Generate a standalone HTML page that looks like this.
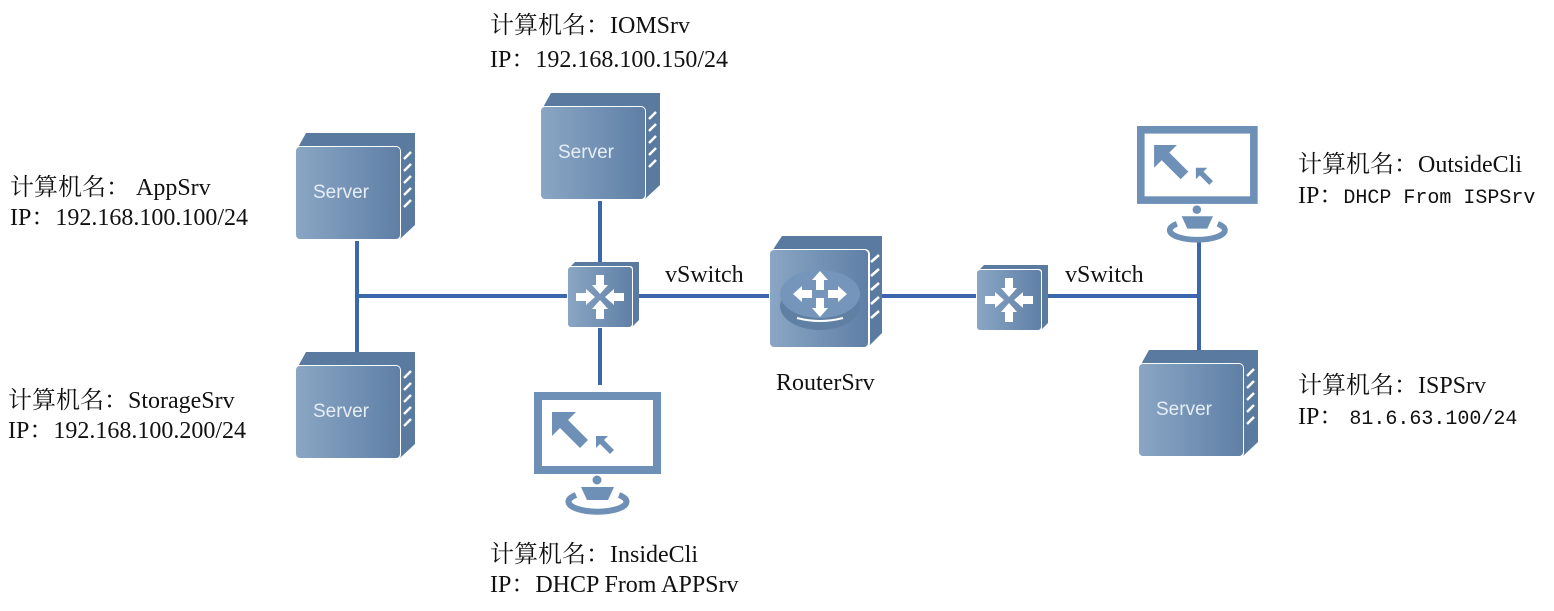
<!DOCTYPE html>
<html><head><meta charset="utf-8"><style>
html,body{margin:0;padding:0;background:#fff;}
svg{display:block}
.t{font-family:"Liberation Serif","Noto Serif CJK SC","Noto Sans CJK SC",serif;font-size:24px;fill:#111}
.m{font-family:"Liberation Mono","Noto Sans CJK SC",monospace;font-size:20px}
.sv{font-family:"Liberation Sans",sans-serif;font-size:19px;fill:#e6edf5}
</style></head><body>
<svg width="1554" height="611" viewBox="0 0 1554 611" xmlns="http://www.w3.org/2000/svg">
<defs>
<linearGradient id="g" x1="0" x2="1" y1="0" y2="0"><stop offset="0" stop-color="#8aa6c4"/><stop offset="1" stop-color="#5f7fa6"/></linearGradient>
<g id="srv">
<polygon points="0,4 10,-14 119,-14 119,78 104,92" fill="#5b7aa0"/>
<rect x="-1" y="-1" width="106" height="95" rx="5" fill="#fff"/>
<rect x="0" y="0" width="104" height="92" rx="4" fill="url(#g)"/>
<g stroke="#fff" stroke-width="2.5"><line x1="108" y1="12" x2="115" y2="5"/><line x1="108" y1="24" x2="115" y2="17"/><line x1="108" y1="36" x2="115" y2="29"/><line x1="108" y1="48" x2="115" y2="41"/><line x1="108" y1="60" x2="115" y2="53"/></g>
</g>
<g id="sw">
<polygon points="0,2 7,-5 71,-5 71,53 64,60" fill="#5b7aa0"/>
<rect x="-1" y="-1" width="66" height="62" rx="3" fill="#fff"/>
<rect x="0" y="0" width="64" height="60" rx="3" fill="url(#g)"/>
<g fill="#fff">
<polygon points="28,8 36,8 36,18 40,18 32,27 24,18 28,18"/>
<polygon points="28,52 36,52 36,42 40,42 32,33 24,42 28,42"/>
<polygon points="8,26 8,34 18,34 18,38 27,30 18,22 18,26"/>
<polygon points="56,26 56,34 46,34 46,38 37,30 46,22 46,26"/>
</g>
</g>
<g id="mon">
<rect x="0" y="0" width="127" height="82" fill="#6e90b6"/>
<rect x="8" y="8" width="111" height="66" fill="#fff"/>
<polygon points="18,20 42,20 34,28 54,48 46,56 26,36 18,44" fill="#6e90b6"/>
<polygon points="62,44 74,44 70,48 80,58 76,62 66,52 62,56" fill="#6e90b6"/>
<circle cx="63" cy="88" r="4.5" fill="#6e90b6"/>
<polygon points="47,95 80,95 74,108 53,108" fill="#6e90b6"/>
<path d="M42,103 A29,10 0 1 0 85,103" fill="none" stroke="#6e90b6" stroke-width="6"/>
</g>
</defs>

<g stroke="#3a67ad" stroke-width="4" fill="none">
<line x1="357" y1="296" x2="770" y2="296"/>
<line x1="357" y1="238" x2="357" y2="366"/>
<line x1="600" y1="199" x2="600" y2="385"/>
<line x1="866" y1="296" x2="1199" y2="296"/>
<line x1="1199" y1="240" x2="1199" y2="364"/>
</g>

<use href="#srv" x="296" y="147"/><text class="sv" x="313" y="198">Server</text>
<use href="#srv" x="296" y="366"/><text class="sv" x="313" y="417">Server</text>
<use href="#srv" x="541" y="107"/><text class="sv" x="558" y="158">Server</text>
<use href="#srv" x="1139" y="364"/><text class="sv" x="1156" y="415">Server</text>

<use href="#sw" x="568" y="267"/>
<use href="#sw" x="977" y="270"/>

<!-- router -->
<polygon points="770,254 782,236 882,236 882,333 868,347" fill="#5b7aa0"/>
<rect x="769" y="249" width="101" height="100" rx="5" fill="#fff"/>
<rect x="770" y="250" width="98" height="97" rx="4" fill="url(#g)"/>
<g stroke="#fff" stroke-width="2.5"><line x1="871" y1="262" x2="879" y2="255"/><line x1="871" y1="276" x2="879" y2="269"/><line x1="871" y1="290" x2="879" y2="283"/><line x1="871" y1="304" x2="879" y2="297"/><line x1="871" y1="318" x2="879" y2="311"/></g>
<ellipse cx="820" cy="306" rx="40" ry="24" fill="#5f7fa3"/>
<ellipse cx="820" cy="294" rx="40" ry="24" fill="#7595ba"/>
<path d="M797,318 Q820,324 843,318" stroke="#fff" stroke-width="2" fill="none"/>
<g fill="#fff">
<polygon points="820,271 828,280 824,280 824,290 816,290 816,280 812,280"/>
<polygon points="820,317 828,308 824,308 824,298 816,298 816,308 812,308"/>
<polygon points="793,294 802,286 802,290 812,290 812,298 802,298 802,302"/>
<polygon points="847,294 838,286 838,290 828,290 828,298 838,298 838,302"/>
</g>

<use href="#mon" x="534" y="392"/>
<g transform="translate(1137,126) scale(0.95)"><use href="#mon"/></g>

<text class="t" x="490" y="33">计算机名：IOMSrv</text>
<text class="t" x="490" y="67">IP：192.168.100.150/24</text>
<text class="t" x="10" y="195">计算机名： AppSrv</text>
<text class="t" x="10" y="225">IP：192.168.100.100/24</text>
<text class="t" x="8" y="408">计算机名：StorageSrv</text>
<text class="t" x="8" y="438">IP：192.168.100.200/24</text>
<text class="t" x="490" y="562">计算机名：InsideCli</text>
<text class="t" x="490" y="592">IP：DHCP From APPSrv</text>
<text class="t" x="1298" y="172">计算机名：OutsideCli</text>
<text class="t" x="1298" y="203">IP：<tspan class="m">DHCP From ISPSrv</tspan></text>
<text class="t" x="1298" y="393">计算机名：ISPSrv</text>
<text class="t" x="1298" y="424">IP： <tspan class="m">81.6.63.100/24</tspan></text>
<text class="t" x="665" y="282">vSwitch</text>
<text class="t" x="1065" y="282">vSwitch</text>
<text class="t" x="776" y="390">RouterSrv</text>
</svg>
</body></html>
